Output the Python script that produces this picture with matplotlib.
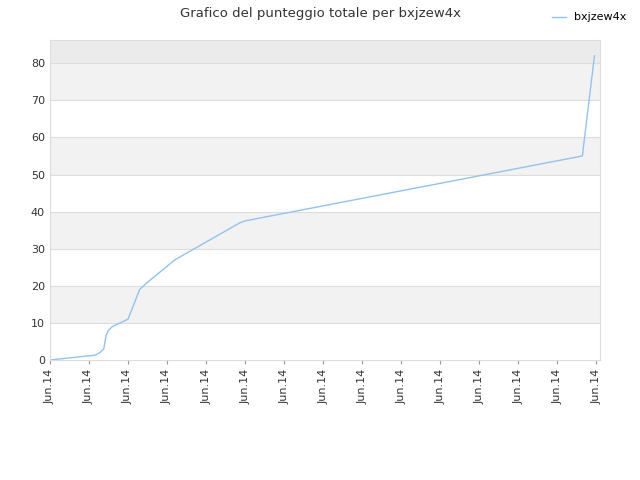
import matplotlib
matplotlib.use('Agg')
import matplotlib.pyplot as plt

# ── data (x in tick units, y = total score) ──────────────────────────────
x_vals = [0.0, 1.15, 1.28, 1.38, 1.44, 1.5, 1.6, 2.0, 2.3, 2.45, 3.2, 4.87, 5.0, 13.64, 13.95]
scores = [0.0, 1.3, 2.0, 3.0, 6.7, 8.0, 9.0, 11.0, 19.0, 20.5, 27.0, 37.0, 37.5, 55.0, 82.0]
tick_pos = list(range(15))
tick_labels = ["Jun.14"] * 15
series_name = "bxjzew4x"

fig, ax = plt.subplots(figsize=(6.4, 4.8), dpi=100)
fig.subplots_adjust(left=0.078, right=0.938, top=0.917, bottom=0.25)

ymax = 86.3
for lo in range(0, 90, 10):
    hi = min(lo + 10, ymax)
    if lo >= 80:
        col = "#ebebeb"
    elif (lo // 10) % 2 == 1:
        col = "#f2f2f2"
    else:
        col = "white"
    ax.axhspan(lo, hi, color=col, zorder=0, lw=0)
for y in range(10, 90, 10):
    ax.axhline(y, color="#dddddd", lw=0.8, zorder=1)

ax.plot(x_vals, scores, color="#8fc3f0", lw=1.0, label=series_name, zorder=2)

ax.set_xlim(0, 14.1)
ax.set_ylim(0, ymax)
ax.set_xticks(tick_pos)
ax.set_xticklabels(tick_labels, rotation=90, fontsize=8, color="#333333")
ax.set_yticks(range(0, 90, 10))
ax.tick_params(axis='y', labelsize=8, colors="#333333", length=0)
ax.tick_params(axis='x', length=3, color="#999999")
for s in ax.spines.values():
    s.set_color("#dddddd")
    s.set_linewidth(0.8)

fig.suptitle("Grafico del punteggio totale per bxjzew4x", fontsize=9.5, color="#333333", y=0.985)
fig.legend(loc="upper right", bbox_to_anchor=(0.995, 0.995), frameon=False, fontsize=8,
           handlelength=1.2)

plt.savefig("out.png", dpi=100)
